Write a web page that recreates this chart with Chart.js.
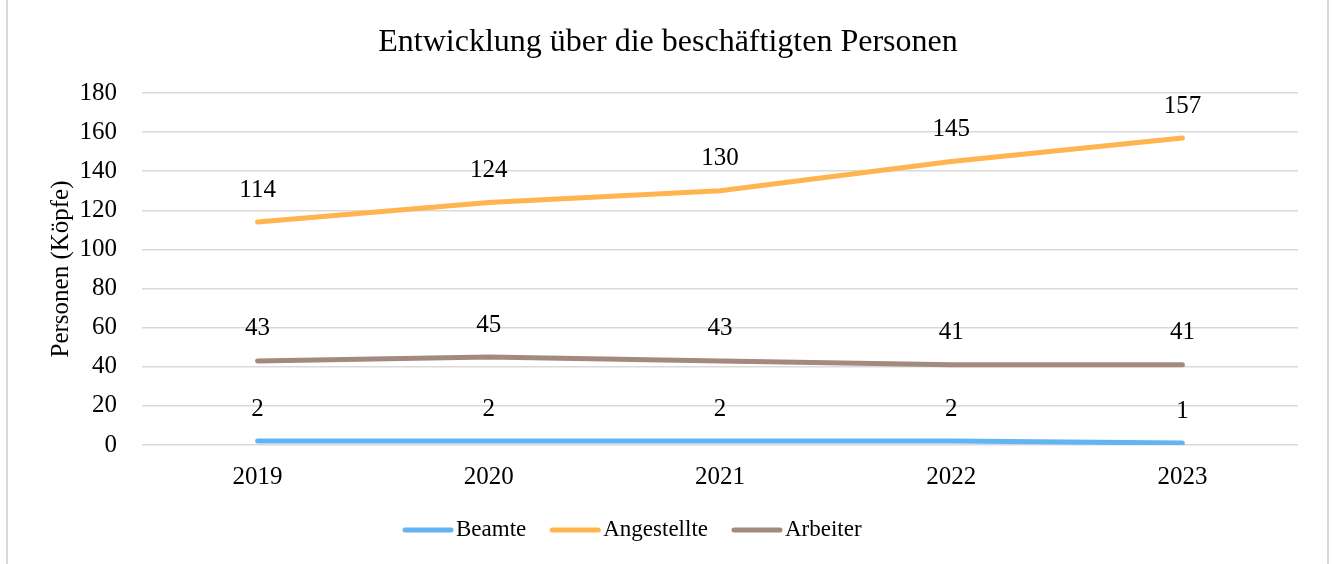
<!DOCTYPE html>
<html lang="de">
<head>
<meta charset="utf-8">
<title>Entwicklung über die beschäftigten Personen</title>
<script src="https://cdn.jsdelivr.net/npm/chart.js@4.4.1/dist/chart.umd.min.js"></script>
<style>
  html, body { margin: 0; padding: 0; background: #ffffff; }
  #wrap { width: 1333px; height: 564px; position: relative; }
</style>
</head>
<body>
<div id="wrap"><canvas id="chart" width="1333" height="564"></canvas></div>
<script>
// Beschäftigte Personen nach Gruppe (Köpfe)
const years = ['2019', '2020', '2021', '2022', '2023'];
const beamte = [2, 2, 2, 2, 1];
const angestellte = [114, 124, 130, 145, 157];
const arbeiter = [43, 45, 43, 41, 41];
const yTicks = [0, 20, 40, 60, 80, 100, 120, 140, 160, 180];

const seriesNames = ['Beamte', 'Angestellte', 'Arbeiter'];
const seriesColors = ['#63b4f3', '#ffb44f', '#a28a7e'];
const FONT = "'Liberation Serif', 'Times New Roman', serif";

// Light grey frame lines on the left and right edge
const framePlugin = {
  id: 'frame',
  beforeDraw(chart) {
    const ctx = chart.ctx;
    ctx.save();
    ctx.strokeStyle = '#d9d9d9';
    ctx.lineWidth = 2;
    ctx.beginPath();
    ctx.moveTo(7, 0); ctx.lineTo(7, chart.height);
    ctx.moveTo(1328, 0); ctx.lineTo(1328, chart.height);
    ctx.stroke();
    ctx.restore();
  }
};

// Value labels above every point
const valueLabels = {
  id: 'valueLabels',
  afterDatasetsDraw(chart) {
    const ctx = chart.ctx;
    ctx.save();
    ctx.font = '25px ' + FONT;
    ctx.fillStyle = '#000';
    ctx.textAlign = 'center';
    ctx.textBaseline = 'middle';
    chart.data.datasets.forEach((ds, i) => {
      chart.getDatasetMeta(i).data.forEach((pt, j) => {
        ctx.fillText(String(ds.data[j]), pt.x, pt.y - 32);
      });
    });
    ctx.restore();
  }
};

// Legend row below the axis
const lineLegend = {
  id: 'lineLegend',
  afterDraw(chart) {
    const ctx = chart.ctx;
    ctx.save();
    ctx.font = '23px ' + FONT;
    ctx.textBaseline = 'middle';
    ctx.textAlign = 'left';
    let x = 405;
    const y = 530;
    chart.data.datasets.forEach(ds => {
      ctx.strokeStyle = ds.borderColor;
      ctx.lineWidth = 5;
      ctx.lineCap = 'round';
      ctx.beginPath();
      ctx.moveTo(x, y);
      ctx.lineTo(x + 46, y);
      ctx.stroke();
      ctx.fillStyle = '#000';
      ctx.fillText(ds.label, x + 51, y);
      x += 51 + ctx.measureText(ds.label).width + 26;
    });
    ctx.restore();
  }
};

// Chart heading
const heading = {
  id: 'heading',
  afterDraw(chart) {
    const ctx = chart.ctx;
    ctx.save();
    ctx.font = '32px ' + FONT;
    ctx.fillStyle = '#000';
    ctx.textAlign = 'center';
    ctx.textBaseline = 'middle';
    ctx.fillText('Entwicklung über die beschäftigten Personen', 668, 43);
    ctx.restore();
  }
};

const seriesData = [beamte, angestellte, arbeiter];

new Chart(document.getElementById('chart'), {
  type: 'line',
  data: {
    labels: years,
    datasets: seriesNames.map((name, i) => ({
      label: name,
      data: seriesData[i],
      borderColor: seriesColors[i],
      backgroundColor: seriesColors[i],
      borderWidth: 5,
      borderCapStyle: 'round',
      borderJoinStyle: 'round',
      pointRadius: 0,
      pointHoverRadius: 0,
      tension: 0,
      fill: false
    }))
  },
  options: {
    responsive: false,
    animation: false,
    events: [],
    layout: { padding: { top: 93, right: 35, bottom: 69, left: 0 } },
    plugins: {
      legend: { display: false },
      tooltip: { enabled: false },
      title: { display: false }
    },
    scales: {
      x: {
        offset: true,
        grid: { display: false, drawTicks: false },
        border: { display: false },
        ticks: { color: '#000', font: { family: FONT, size: 25 }, padding: 17 },
        afterFit(scale) { scale.height = 50; }
      },
      y: {
        min: 0,
        max: 180,
        afterBuildTicks(scale) { scale.ticks = yTicks.map(v => ({ value: v })); },
        grid: { color: '#d9d9d9', lineWidth: 1.5, drawTicks: false },
        border: { display: false },
        ticks: { color: '#000', font: { family: FONT, size: 25 }, padding: 25 },
        title: {
          display: true,
          text: 'Personen (Köpfe)',
          color: '#000',
          font: { family: FONT, size: 25 },
          padding: { top: 46, bottom: 0 }
        },
        afterFit(scale) { scale.width = 142; }
      }
    }
  },
  plugins: [framePlugin, valueLabels, lineLegend, heading]
});
</script>
</body>
</html>
